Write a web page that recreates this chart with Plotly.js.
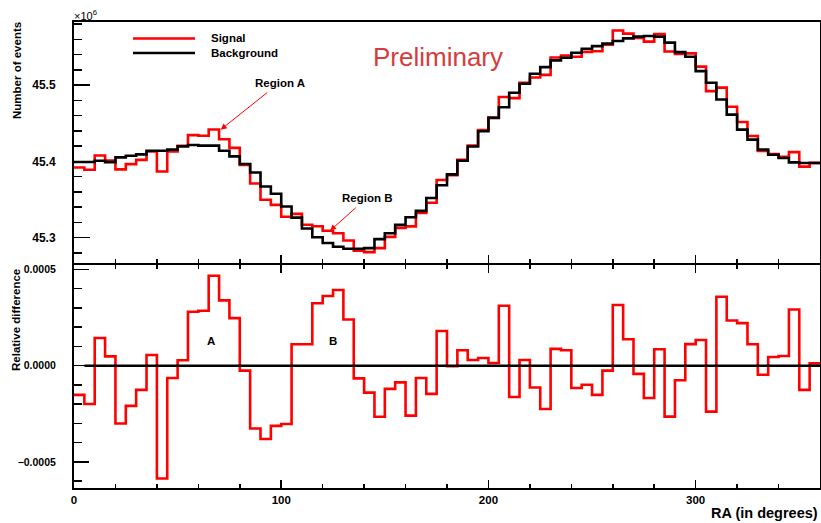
<!DOCTYPE html>
<html><head><meta charset="utf-8">
<script src="https://cdn.plot.ly/plotly-3.0.1.min.js"></script>
<style>html,body{margin:0;padding:0;background:#fff}</style>
</head><body>
<div id="chart" style="width:821px;height:523px"></div>
<script>
// RA binning: 72 bins of 5 degrees from 0 to 360
const raMin = 0;
const raMax = 360;
const raBinWidth = 5;

// Number of events (x10^6) per RA bin
const signal = [
  45.3921, 45.3891, 45.4077, 45.4010, 45.3895, 45.3965, 45.4020, 45.4130, 45.3868, 45.4130,
  45.4205, 45.4345, 45.4337, 45.4418, 45.4290, 45.4177, 45.3954, 45.3710, 45.3497, 45.3430,
  45.3273, 45.3312, 45.3170, 45.3150, 45.3090, 45.3058, 45.2962, 45.2828, 45.2810, 45.2862,
  45.3010, 45.3128, 45.3148, 45.3323, 45.3457, 45.3756, 45.3820, 45.4022, 45.4208, 45.4412,
  45.4576, 45.4845, 45.4830, 45.5032, 45.5100, 45.5135, 45.5363, 45.5390, 45.5374, 45.5437,
  45.5446, 45.5530, 45.5718, 45.5676, 45.5620, 45.5572, 45.5672, 45.5442, 45.5410, 45.5418,
  45.5243, 45.4922, 45.4968, 45.4718, 45.4517, 45.4333, 45.4137, 45.4098, 45.4062, 45.4122,
  45.3932, 45.3981
];
const background = [
  45.3992, 45.3992, 45.4009, 45.3990, 45.4053, 45.4075, 45.4092, 45.4140, 45.4140, 45.4154,
  45.4197, 45.4216, 45.4207, 45.4207, 45.4140, 45.4066, 45.3966, 45.3855, 45.3670, 45.3575,
  45.3408, 45.3262, 45.3120, 45.3005, 45.2930, 45.2880, 45.2855, 45.2855, 45.2862, 45.2980,
  45.3058, 45.3167, 45.3268, 45.3351, 45.3520, 45.3688, 45.3830, 45.4008, 45.4195, 45.4395,
  45.4571, 45.4711, 45.4900, 45.5018, 45.5150, 45.5237, 45.5325, 45.5360, 45.5426, 45.5479,
  45.5513, 45.5545, 45.5579, 45.5614, 45.5637, 45.5645, 45.5637, 45.5558, 45.5434, 45.5374,
  45.5184, 45.5032, 45.4812, 45.4614, 45.4417, 45.4286, 45.4154, 45.4088, 45.4045, 45.3987,
  45.3979, 45.3979
];
// Relative difference (signal - background) / background
const relDiff = [
  -0.000152, -0.000199, 0.000144, 0.000048, -0.000301, -0.000209, -0.000126, 0.000055, -0.000587, -0.000064,
  0.000028, 0.000280, 0.000285, 0.000467, 0.000339, 0.000247, -0.000026, -0.000327, -0.000381, -0.000313,
  -0.000303, 0.000111, 0.000111, 0.000324, 0.000362, 0.000393, 0.000240, -0.000066, -0.000140, -0.000266,
  -0.000121, -0.000087, -0.000260, -0.000064, -0.000147, 0.000180, -0.000003, 0.000080, 0.000029, 0.000040,
  0.000014, 0.000311, -0.000163, 0.000029, -0.000114, -0.000225, 0.000087, 0.000080, -0.000116, -0.000099,
  -0.000152, -0.000026, 0.000315, 0.000137, -0.000043, -0.000168, 0.000085, -0.000265, -0.000076, 0.000112,
  0.000133, -0.000239, 0.000358, 0.000235, 0.000221, 0.000111, -0.000047, 0.000045, 0.000050, 0.000292,
  -0.000126, 0.000012
];

const topTicks = [45.3, 45.4, 45.5];
const bottomTicks = [-0.0005, 0, 0.0005];
const raTicks = [0, 100, 200, 300];

const legendNames = ['Signal', 'Background'];
const seriesColors = {signal: '#ff0000', background: '#000000'};

// build step-histogram coordinates: left edges plus closing right edge
function stepXY(vals) {
  const x = vals.map((_, i) => raMin + i * raBinWidth);
  x.push(raMax);
  const y = vals.slice();
  y.push(vals[vals.length - 1]);
  return {x, y};
}

const FONT = 'Liberation Sans, Arial, Helvetica, sans-serif';
const sig = stepXY(signal), bkg = stepXY(background), rd = stepXY(relDiff);

const traces = [
  {x: sig.x, y: sig.y, xaxis: 'x', yaxis: 'y', type: 'scatter', mode: 'lines', name: legendNames[0],
   line: {shape: 'hv', color: seriesColors.signal, width: 2.6}},
  {x: bkg.x, y: bkg.y, xaxis: 'x', yaxis: 'y', type: 'scatter', mode: 'lines', name: legendNames[1],
   line: {shape: 'hv', color: seriesColors.background, width: 2.6}},
  {x: rd.x, y: rd.y, xaxis: 'x2', yaxis: 'y2', type: 'scatter', mode: 'lines', name: 'Relative difference',
   line: {shape: 'hv', color: seriesColors.signal, width: 2.6}}
];

const L = 74, T = 22, W = 746, H = 466;
const px = v => (v - L) / W;
const py = v => (T + H - v) / H;

const axisCommon = {
  showline: true, linewidth: 2, linecolor: '#000', showgrid: false, zeroline: false,
  ticks: 'inside', tickcolor: '#000', tickwidth: 1.5
};
const bold = s => ({family: FONT, size: s, weight: 'bold', color: '#000'});

const layout = {
  width: 821, height: 523,
  margin: {l: L, r: 1, t: T, b: 35},
  paper_bgcolor: '#fff', plot_bgcolor: '#fff',
  showlegend: false,
  font: {family: FONT, color: '#000'},
  xaxis: Object.assign({}, axisCommon, {
    domain: [0, 1], anchor: 'y', range: [raMin, raMax], mirror: true,
    tickvals: raTicks, showticklabels: false, ticklen: 8,
    minor: {dtick: 20, tick0: 0, ticks: 'inside', ticklen: 4, tickwidth: 1.5, tickcolor: '#000'}
  }),
  yaxis: Object.assign({}, axisCommon, {
    domain: [0.4828, 1], anchor: 'x', range: [45.2667, 45.5829], mirror: true,
    tickvals: topTicks, tickformat: '.1f', ticklen: 16, tickfont: bold(12), ticklabelstandoff: 14,
    minor: {dtick: 0.02, tick0: 45.3, ticks: 'inside', ticklen: 8, tickwidth: 1.5, tickcolor: '#000'}
  }),
  xaxis2: Object.assign({}, axisCommon, {
    domain: [0, 1], anchor: 'y2', range: [raMin, raMax], mirror: 'ticks',
    tickvals: raTicks, ticklen: 8, tickfont: bold(11.5),
    minor: {dtick: 20, tick0: 0, ticks: 'inside', ticklen: 4, tickwidth: 1.5, tickcolor: '#000'}
  }),
  yaxis2: Object.assign({}, axisCommon, {
    domain: [0, 0.4785], anchor: 'x2', range: [-0.000636, 0.000523], mirror: true,
    tickvals: bottomTicks, tickformat: '.4f', ticklen: 15, tickfont: bold(10.5), ticklabelstandoff: 14,
    minor: {dtick: 0.0001, tick0: 0, ticks: 'inside', ticklen: 8, tickwidth: 1.5, tickcolor: '#000'}
  }),
  shapes: [
    {type: 'line', xref: 'x2', yref: 'y2', x0: 5, x1: raMax, y0: 0, y1: 0,
     line: {color: '#000', width: 2.5}, layer: 'above'},
    {type: 'line', xref: 'paper', yref: 'paper', x0: px(133), x1: px(195), y0: py(38.5), y1: py(38.5),
     line: {color: seriesColors.signal, width: 2.6}},
    {type: 'line', xref: 'paper', yref: 'paper', x0: px(133), x1: px(195), y0: py(53), y1: py(53),
     line: {color: seriesColors.background, width: 2.6}}
  ],
  annotations: [
    {xref: 'paper', yref: 'paper', x: px(209), y: py(38), xanchor: 'left', yanchor: 'middle', showarrow: false,
     text: legendNames[0], font: bold(11.5)},
    {xref: 'paper', yref: 'paper', x: px(209), y: py(53), xanchor: 'left', yanchor: 'middle', showarrow: false,
     text: legendNames[1], font: bold(11.5)},
    {xref: 'paper', yref: 'paper', x: px(437.5), y: py(57), xanchor: 'center', yanchor: 'middle', showarrow: false,
     text: 'Preliminary', font: {family: FONT, size: 26, color: '#d63c3c'}},
    {xref: 'paper', yref: 'paper', x: px(72), y: py(15), xanchor: 'left', yanchor: 'middle', showarrow: false,
     text: '×10<sup>6</sup>', font: {family: FONT, size: 11, color: '#000'}},
    {xref: 'paper', yref: 'paper', x: px(17), y: py(71), xanchor: 'center', yanchor: 'middle', showarrow: false,
     textangle: -90, text: 'Number of events', font: bold(11.5)},
    {xref: 'paper', yref: 'paper', x: px(16), y: py(320), xanchor: 'center', yanchor: 'middle', showarrow: false,
     textangle: -90, text: 'Relative difference', font: bold(11.5)},
    {xref: 'paper', yref: 'paper', x: 1, y: py(513), xanchor: 'right', yanchor: 'middle', showarrow: false,
     text: 'RA (in degrees)', font: bold(14.5)},
    // Region labels with arrows pointing at the signal histogram
    {xref: 'x', yref: 'y', x: 70.8, y: 45.4417, text: 'Region A', font: bold(11.5),
     showarrow: true, axref: 'pixel', ayref: 'pixel', ax: 59, ay: -47,
     arrowcolor: '#ff0000', arrowwidth: 1, arrowhead: 2, arrowsize: 1.2, standoff: 0, startstandoff: 4},
    {xref: 'x', yref: 'y', x: 123.6, y: 45.3092, text: 'Region B', font: bold(11.5),
     showarrow: true, axref: 'pixel', ayref: 'pixel', ax: 37, ay: -33,
     arrowcolor: '#ff0000', arrowwidth: 1, arrowhead: 2, arrowsize: 1.2, standoff: 0, startstandoff: 4},
    {xref: 'x2', yref: 'y2', x: 66, y: 0.000128, xanchor: 'center', yanchor: 'middle', showarrow: false,
     text: 'A', font: bold(11.5)},
    {xref: 'x2', yref: 'y2', x: 125.2, y: 0.000128, xanchor: 'center', yanchor: 'middle', showarrow: false,
     text: 'B', font: bold(11.5)}
  ]
};

Plotly.newPlot('chart', traces, layout, {staticPlot: true, displayModeBar: false});
</script>
</body></html>
